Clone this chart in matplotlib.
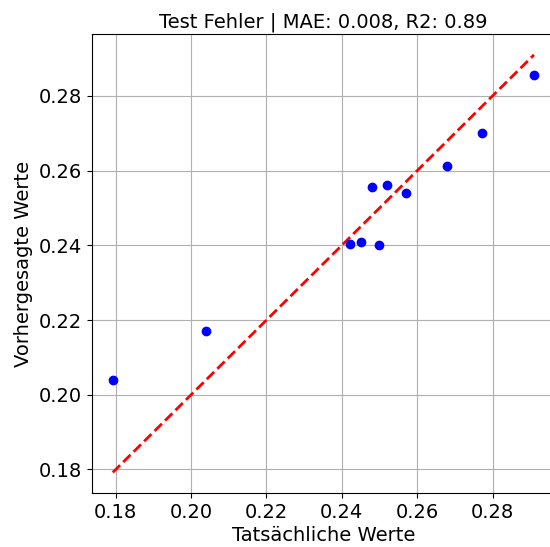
import matplotlib
matplotlib.use('Agg')
import matplotlib.pyplot as plt

# true vs predicted values
y_true = [0.1792, 0.2040, 0.2421, 0.2451, 0.2481, 0.2500, 0.2520, 0.2571, 0.2679, 0.2771, 0.2910]
y_pred = [0.2039, 0.2170, 0.2403, 0.2410, 0.2555, 0.2400, 0.2562, 0.2540, 0.2612, 0.2701, 0.2855]
title = 'Test Fehler | MAE: 0.008, R2: 0.89'

plt.rcParams['font.size'] = 14

fig = plt.figure(figsize=(5.5, 5.47), dpi=100)
# the reference is cut off on the right, so the axes run past the figure edge
ax = fig.add_axes([91.7/550, 1-493.3/547, (555-91.7)/550, (493.3-34)/547])
ax.scatter(y_true, y_pred, color='blue', zorder=3)
lo, hi = min(y_true), max(y_true)
ax.plot([lo, hi], [lo, hi], 'r--', lw=2, zorder=2)
ax.set_xlabel('Tatsächliche Werte', labelpad=3)
ax.set_ylabel('Vorhergesagte Werte')
ax.set_title(title, fontsize=14, pad=5)
ax.grid(True)
fig.savefig('out.png')
